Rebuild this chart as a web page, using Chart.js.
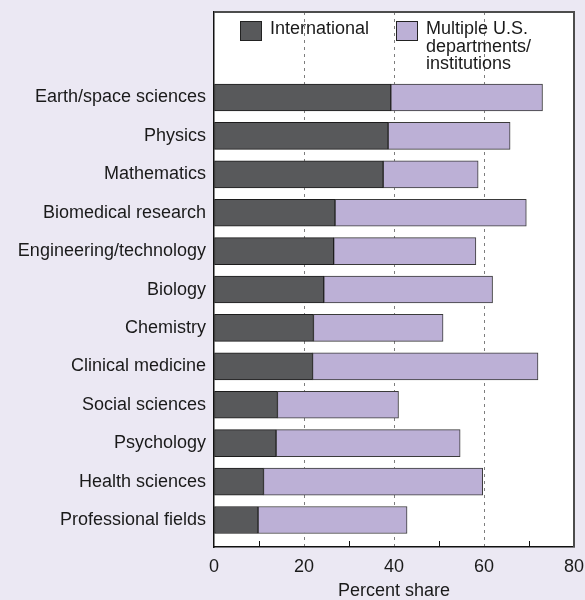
<!DOCTYPE html>
<html>
<head>
<meta charset="utf-8">
<script src="https://cdn.jsdelivr.net/npm/chart.js@4/dist/chart.umd.min.js"></script>
<style>
  html, body { margin: 0; padding: 0; background: #ebe8f3; }
  #wrap { width: 585px; height: 600px; }
</style>
</head>
<body>
<div id="wrap"><canvas id="BarChart" width="585" height="600"></canvas></div>
<script>
// categories, top to bottom
const fields = ["Earth/space sciences", "Physics", "Mathematics", "Biomedical research",
    "Engineering/technology", "Biology", "Chemistry", "Clinical medicine",
    "Social sciences", "Psychology", "Health sciences", "Professional fields"];
// percent share (stacked: international + multiple U.S. = total)
const international = [39.3, 38.7, 37.6, 26.9, 26.6, 24.4, 22.1, 21.9, 14.1, 13.8, 11.0, 9.8];
const multipleUS = [33.7, 27.1, 21.1, 42.5, 31.6, 37.5, 28.8, 50.1, 26.9, 40.9, 48.7, 33.1];
const xTicks = [0, 20, 40, 60, 80];
const legendLines = [["International"], ["Multiple U.S.", "departments/", "institutions"]];

const darkGray = "#58595b", lightPurple = "#bcb0d6";
const fontFam = "'Liberation Sans', Arial, Helvetica, sans-serif";

function toPoints(vals){
    var pts = [];
    for(let i = 0; i < vals.length; i++){
        pts.push({x: vals[i], y: i});
    }
    return pts;
}

function noEdgePadding(s){
    s.paddingTop = 0; s.paddingBottom = 0;
    s.paddingLeft = 0; s.paddingRight = 0;
}

// white plot box, top/right frame, inner minor ticks, legend inside plot
const framePlugin = {
    id: "frame",
    beforeDraw(chart){
        const {ctx, chartArea: a} = chart;
        ctx.save();
        ctx.fillStyle = "#ffffff";
        ctx.fillRect(a.left, a.top, a.right - a.left, a.bottom - a.top);
        ctx.restore();
    },
    afterDraw(chart){
        const {ctx, chartArea: a} = chart;
        const xs = chart.scales.x;
        ctx.save();
        ctx.strokeStyle = "#4d4d4d";
        ctx.lineWidth = 2;
        ctx.beginPath();
        ctx.moveTo(a.left, a.top);
        ctx.lineTo(a.right, a.top);
        ctx.lineTo(a.right, a.bottom);
        ctx.stroke();
        // minor tick marks pointing up from the bottom axis
        ctx.strokeStyle = "#111";
        ctx.lineWidth = 1;
        [10, 30, 50, 70].forEach(v => {
            const px = Math.round(xs.getPixelForValue(v)) + 0.5;
            ctx.beginPath();
            ctx.moveTo(px, a.bottom);
            ctx.lineTo(px, a.bottom - 6);
            ctx.stroke();
        });
        // legend
        const ds = chart.data.datasets;
        const boxX = [a.left + 26, a.left + 182];
        ctx.font = "18px " + fontFam;
        ctx.textBaseline = "alphabetic";
        ctx.textAlign = "left";
        for(let i = 0; i < ds.length; i++){
            ctx.fillStyle = ds[i].backgroundColor;
            ctx.fillRect(boxX[i], a.top + 9, 22, 20);
            ctx.strokeStyle = "#222";
            ctx.lineWidth = 1;
            ctx.strokeRect(boxX[i] + 0.5, a.top + 9.5, 21, 19);
            ctx.fillStyle = "#1a1a1a";
            legendLines[i].forEach((t, j) => {
                ctx.fillText(t, boxX[i] + 30, a.top + 22 + j * 17.5);
            });
        }
        ctx.restore();
    }
};

var config = {
    type: "bar",
    data: {
        datasets: [{
            label: "International",
            data: toPoints(international),
            backgroundColor: darkGray,
            borderColor: "#1c1c1c",
            borderWidth: 1,
            borderSkipped: false,
            barThickness: 27
        }, {
            label: "Multiple U.S. departments/institutions",
            data: toPoints(multipleUS),
            backgroundColor: lightPurple,
            borderColor: "#3a3a3a",
            borderWidth: 1,
            borderSkipped: false,
            barThickness: 27
        }]
    },
    options: {
        indexAxis: "y",
        responsive: false,
        animation: false,
        layout: { padding: { top: 12, right: 11, left: 0, bottom: 0 } },
        plugins: {
            legend: { display: false },
            tooltip: { enabled: false }
        },
        scales: {
            x: {
                type: "linear",
                stacked: true,
                min: 0,
                max: 80,
                position: "bottom",
                afterBuildTicks: s => { s.ticks = xTicks.map(v => ({value: v})); },
                afterFit: s => { s.height = 53; noEdgePadding(s); },
                ticks: {
                    color: "#1a1a1a",
                    font: { family: fontFam, size: 18 },
                    padding: 9,
                    maxRotation: 0
                },
                grid: {
                    drawTicks: false,
                    color: ctx => (ctx.tick && ctx.tick.value > 0 && ctx.tick.value < 80) ? "#7d7d7d" : "rgba(0,0,0,0)",
                    lineWidth: 1
                },
                border: { display: true, color: "#111", width: 1.5, dash: [3, 4] },
                title: {
                    display: true,
                    text: "Percent share",
                    color: "#1a1a1a",
                    font: { family: fontFam, size: 18, lineHeight: 1.0 },
                    padding: { top: 0, bottom: 0 }
                }
            },
            y: {
                type: "linear",
                stacked: true,
                reverse: true,
                offset: false,
                min: -2.226,
                max: 11.703,
                afterBuildTicks: s => { s.ticks = fields.map((f, i) => ({value: i})); },
                afterFit: s => { s.width = 214; noEdgePadding(s); },
                ticks: {
                    color: "#1a1a1a",
                    font: { family: fontFam, size: 18 },
                    padding: 8,
                    callback: v => fields[v]
                },
                grid: { display: false, drawTicks: false },
                border: { display: true, color: "#111", width: 1.5 }
            }
        }
    },
    plugins: [framePlugin]
};

window.myBar = new Chart(document.getElementById("BarChart"), config);
</script>
</body>
</html>
